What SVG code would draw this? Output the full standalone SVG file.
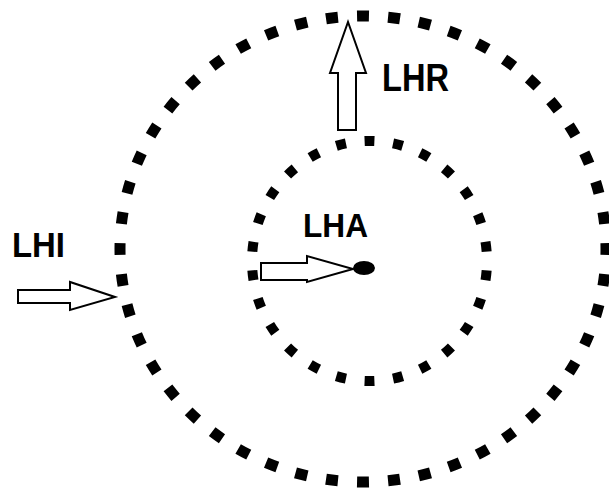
<svg xmlns="http://www.w3.org/2000/svg" width="609" height="490" viewBox="0 0 609 490">
  <style>
    .ring { fill: none; stroke: #000; }
    .arrow { fill: #fff; stroke: #000; stroke-width: 2; stroke-linejoin: miter; }
    .label { font-family: "Liberation Sans", Arial, sans-serif; font-weight: bold; fill: #000; }
  </style>
  <rect width="609" height="490" fill="#fff"/>
  <g id="outer-ring">
    <path class="ring" stroke-width="11" d="M 363 16 A 243 233 0 0 1 363 482 A 243 233 0 0 1 363 16 Z" pathLength="1488" stroke-dasharray="12 19" stroke-dashoffset="6"/>
  </g>
  <g id="inner-ring">
    <path class="ring" stroke-width="10" d="M 369.5 141 A 117.5 120 0 0 1 369.5 381 A 117.5 120 0 0 1 369.5 141 Z" pathLength="754" stroke-dasharray="10 19" stroke-dashoffset="5"/>
  </g>
  <g id="center-point">
    <ellipse cx="364" cy="268" rx="11" ry="7" fill="#000"/>
  </g>
  <g id="connectors">
    <polygon id="arrow-LHI" class="arrow" points="18,290 70,290 70,282 115,297 70,310 70,303 18,303"/>
    <polygon id="arrow-LHA" class="arrow" points="261,263 307,263 307,256 353,269 307,282 307,280 261,280"/>
    <polygon id="arrow-LHR" class="arrow" points="338,130 338,73 330,73 348,22 366,73 356,73 356,130"/>
  </g>
  <g id="label-LHI">
    <text class="label" x="12" y="257" font-size="35" textLength="53" lengthAdjust="spacingAndGlyphs">LHI</text>
  </g>
  <g id="label-LHA">
    <text class="label" x="303" y="237" font-size="33" textLength="65" lengthAdjust="spacingAndGlyphs">LHA</text>
  </g>
  <g id="label-LHR">
    <text class="label" x="382" y="91" font-size="39" textLength="67" lengthAdjust="spacingAndGlyphs">LHR</text>
  </g>
</svg>
